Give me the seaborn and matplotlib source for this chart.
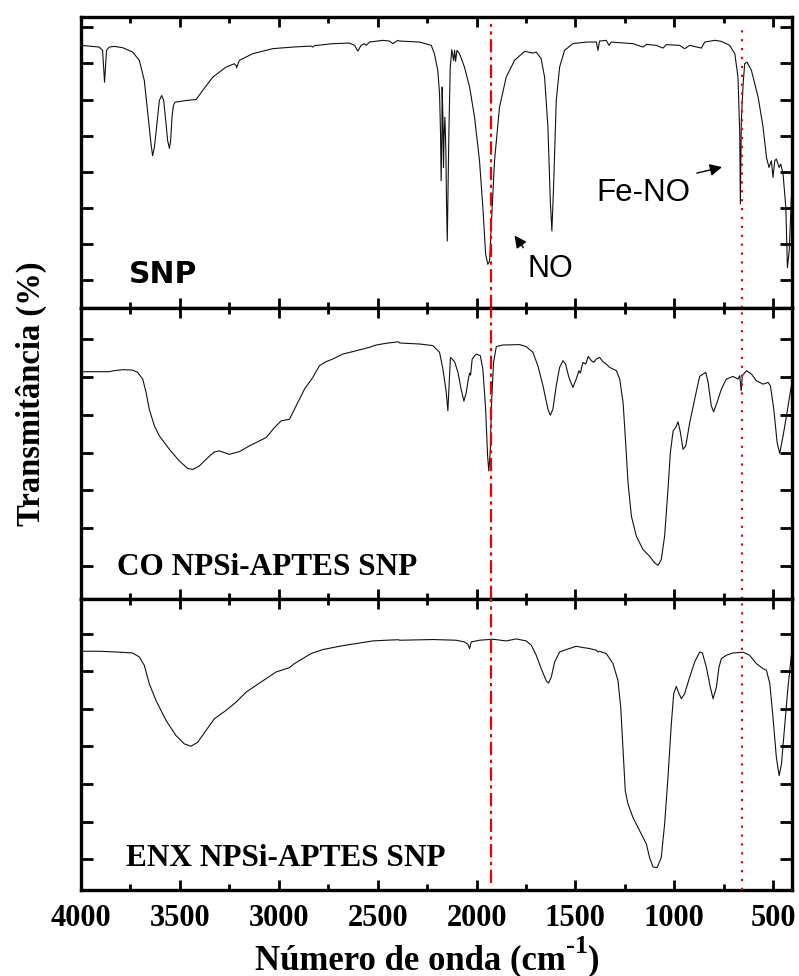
import numpy as np
import pandas as pd
import matplotlib
matplotlib.use("Agg")
import matplotlib.pyplot as plt
import seaborn as sns

# ---------------- data (wavenumber cm^-1, transmittance in arbitrary units) ----------------
snp_wn = [4000, 3908, 3891, 3881, 3871, 3857, 3832, 3790, 3739, 3705, 3680, 3660, 3646, 3638, 3629,
          3618, 3604, 3592, 3582, 3570, 3562, 3553, 3547, 3540, 3533, 3525, 3469, 3418, 3385, 3334,
          3267, 3225, 3216, 3213, 3206, 3199, 3132, 3031, 2929, 2837, 2828, 2820, 2727, 2643, 2617,
          2600, 2584, 2567, 2558, 2541, 2474, 2440, 2423, 2398,
          2390, 2288, 2229, 2213, 2196, 2187, 2182, 2179, 2175, 2174, 2170, 2167, 2164, 2160, 2155,
          2152, 2148, 2145, 2140, 2133, 2125, 2116, 2111, 2106, 2099, 2086, 2061, 2035, 2010, 1985,
          1968, 1954, 1943, 1934, 1926, 1909, 1884, 1850, 1808, 1757, 1715, 1698, 1673, 1656, 1639,
          1627, 1619, 1610, 1597, 1580, 1555, 1513, 1445, 1394, 1386, 1378, 1344, 1330, 1319, 1209,
          1158, 1141, 1091, 1057, 1040, 973, 948, 922, 863, 846, 796, 762, 720, 694, 678, 669, 666,
          661, 652, 644, 632, 610, 576, 551, 534, 521, 509, 501, 492, 484, 470, 462, 450, 436, 428,
          419, 408]
snp_t = [262, 260.3, 257, 225.3, 257, 260.3, 261, 259.7, 255.3, 247, 227, 190.3, 163.7, 152, 160.3,
         180.3, 207, 212, 207, 183.7, 167, 159.3, 167, 190.3, 202, 205.3, 207, 208, 217, 230.3,
         240.3, 243.7, 242, 239.7, 243.7, 247, 253.7, 258.7, 260.3, 261.3, 260.3, 261.7, 263.7, 264.3, 262,
         256.3, 262, 263.7, 262, 265.3, 267, 266.3, 263.7, 267,
         266.3, 265.3, 262, 253.7, 237, 213.7, 173.7, 127, 173.7, 220.3, 190.3, 140.3, 173.7, 190.3, 157,
         107, 67, 107, 173.7, 240.3, 257.7, 247, 257, 246, 257, 253.7, 240.3, 220.3, 190.3, 147,
         100.3, 53.7, 43.7, 47, 80.3, 147, 200.3, 230.3, 247, 256, 254.3, 255.3, 248.7, 230.3, 180.3,
         107, 77, 123.7, 207, 240.3, 257, 263.7, 265.3, 265.3, 257, 266.3, 267, 262, 265.3, 263.7,
         260.3, 263, 262, 259.3, 262.7, 262, 258.7, 262, 259.3, 265.3, 267, 266, 262, 253.7, 230.3, 173.7, 103.7,
         187, 223.7, 243.7, 245.3, 237, 210.3, 180.3, 150.3, 140.3, 147, 130.3, 147, 148.7, 140.3, 143.7, 133.7, 100.3, 40.3,
         57, 110.3]

co_wn = [4000, 3857, 3832, 3790, 3739, 3714, 3688, 3671, 3655, 3629, 3604, 3553, 3503, 3461, 3435,
         3402, 3359, 3326, 3300, 3250, 3199, 3149, 3115, 3064, 3022, 2988, 2946, 2912, 2870, 2828,
         2794, 2761, 2727, 2676, 2626, 2575, 2541, 2508, 2457, 2395,
         2388, 2288, 2221, 2187, 2170, 2153, 2145, 2137, 2132, 2111, 2094, 2078, 2064, 2052, 2040,
         2035, 2030, 2022, 2002, 1981, 1968, 1954, 1944, 1938, 1931, 1924, 1914, 1900, 1867, 1782,
         1749, 1715, 1690, 1664, 1639, 1627, 1614, 1597, 1580, 1563, 1550, 1533, 1513, 1496, 1482,
         1475, 1462, 1448, 1435, 1420, 1408, 1394, 1378, 1361, 1344, 1327, 1310, 1293, 1276, 1259,
         1246, 1234, 1217, 1192, 1158, 1125, 1099, 1082, 1066, 1049, 1032, 1020, 1006, 993, 981,
         969, 956, 942, 922, 897, 872, 841, 829, 813, 801, 784, 762, 737, 703, 678, 669, 662, 656,
         635, 610, 585, 551, 526, 514, 497, 480, 467, 450, 430, 408]
co_t = [226.7, 226.7, 227.7, 228.7, 228.3, 226, 219.3, 206, 189.3, 172.7, 162.7, 149.3, 137.7, 130.3, 129.3,
        132.7, 141, 146.7, 147.7, 144.3, 147, 152.7, 156, 161, 171, 177.7, 179.3, 192.7, 209.3, 221,
        232.7, 236.7, 239.3, 244.3, 246.7, 249.3, 251, 253.3, 255, 256.5,
        255.3, 254.3, 252.7, 246, 229.3, 206, 187.7, 219.3, 241, 236.7, 226, 209.3, 197.3, 206, 221,
        225.3, 223.3, 239.3, 244.3, 242.7, 229.3, 189.3, 142.7, 127.7, 146, 196, 236, 251.7, 253.3, 253.7,
        251.7, 246, 232.7, 212.7, 189.3, 183.3, 189.3, 212.7, 231, 237.7, 234.3, 221, 211, 219.3, 227.7,
        225.3, 236, 234.3, 242, 237.7, 236, 239.3, 241, 236.7, 234.3, 231, 229.3, 227.7, 219.3, 196,
        156, 116, 82.7, 62.7, 49.3, 42.7, 36, 33.7, 39.3, 62.7, 109.3, 146, 167.7, 171, 176.7,
        166, 149.3, 152.7, 176, 199.3, 222, 226, 216, 192.7, 186.7, 196, 209.3, 219.3, 222, 219.3, 222.7, 207.7, 222.7,
        227.7, 224.3, 217.7, 214.3, 216, 212.7, 189.3, 156, 145.3, 162.7, 186, 212.7]

enx_wn = [4000, 3908, 3823, 3739, 3705, 3680, 3655, 3621, 3570, 3520, 3478, 3444, 3410, 3368, 3326,
          3267, 3216, 3165, 3115, 3064, 3014, 2946, 2921, 2879, 2837, 2777, 2693, 2609, 2525, 2457, 2395,
          2388, 2221, 2103, 2061, 2044, 2035, 2027, 1985, 1917, 1850, 1799, 1749, 1723, 1698, 1673,
          1647, 1636, 1622, 1605, 1580, 1546, 1496, 1462, 1428, 1394, 1386, 1378, 1344, 1310, 1285,
          1271, 1259, 1248, 1234, 1209, 1175, 1141, 1125, 1108, 1087, 1066, 1049, 1032, 1015, 1003,
          990, 976, 964, 948, 922, 897, 872, 858, 838, 818, 804, 787, 774, 762, 737, 703, 652, 619,
          585, 551, 534, 517, 501, 484, 470, 458, 441, 425, 408]
enx_t = [238, 238, 237.3, 236.3, 232.3, 224, 205.7, 189, 169, 154, 145.7, 143.3, 147.3, 159, 170.7,
         179, 187.3, 197.3, 204, 210.7, 217.3, 221.7, 225.7, 230.7, 235.7, 239.7, 243, 245.7, 248.3, 249, 249.5,
         249, 249.7, 249, 247.3, 245, 240.7, 247.3, 249, 250, 248.3, 250.3, 248.3, 244, 234, 220.7,
         208.3, 206.3, 212.3, 227.3, 237.3, 239.7, 243, 241.7, 240.7, 239, 237.3, 238, 235.7, 225.7, 209,
         182.3, 139, 99, 85.7, 72.3, 59, 45.7, 32.3, 23, 22.3, 32.3, 65.7, 112.3, 165.7, 195.7,
         203, 195.7, 190.7, 195.7, 212.3, 227.3, 237.3, 236.3, 222.3, 202.3, 190.7, 202.3, 222.3, 230.7, 234, 236.3, 237, 234,
         225.7, 220.7, 219, 205.7, 172.3, 132.3, 114, 125.7, 165.7, 202.3, 234]

panel_labels = ["SNP", "CO NPSi-APTES SNP", "ENX NPSi-APTES SNP"]
x_ticks = [4000, 3500, 3000, 2500, 2000, 1500, 1000, 500]
marker_lines = [1926, 658]   # wavenumbers of the red reference lines

# ---------------- style ----------------
sns.set_theme(style="ticks")
plt.rcParams["font.family"] = ["Liberation Serif", "DejaVu Serif"]
plt.rcParams["text.color"] = "black"
plt.rcParams["axes.labelcolor"] = "black"
plt.rcParams["xtick.color"] = "black"
plt.rcParams["ytick.color"] = "black"
plt.rcParams["axes.edgecolor"] = "black"

fig = plt.figure(figsize=(7.99, 9.76), dpi=100)
gs = fig.add_gridspec(3, 1, left=0.1014, right=0.9912, top=0.9823, bottom=0.0881, hspace=0)
axes = [fig.add_subplot(gs[i]) for i in range(3)]

spectra = [(snp_wn, snp_t), (co_wn, co_t), (enx_wn, enx_t)]
yticks_list = [np.arange(28, 290, 36.0), np.arange(33.3, 289, 37.6), np.arange(30.7, 290, 37.5)]

for i, ax in enumerate(axes):
    wn, t = spectra[i]
    df = pd.DataFrame({"wn": wn, "T": t})
    sns.lineplot(data=df, x="wn", y="T", ax=ax, color="#111111", lw=0.8,
                 sort=False, estimator=None)
    ax.set_xlim(4000, 405)
    ax.set_ylim(0, 290)
    ax.set_xticks(x_ticks)
    ax.set_xticks(np.arange(3750, 400, -500), minor=True)
    ax.set_yticks(yticks_list[i])
    ax.set_yticklabels([])
    ax.set_xlabel("")
    ax.set_ylabel("")
    for s in ax.spines.values():
        s.set_linewidth(2.4)
        s.set_color("black")
        s.set_visible(True)
    ax.tick_params(axis="x", which="major", direction="in", length=7.5, width=2,
                   top=True, bottom=True, color="black")
    ax.tick_params(axis="x", which="minor", direction="in", length=4, width=2,
                   top=True, bottom=True, color="black")
    ax.tick_params(axis="y", which="major", direction="in", length=8.5, width=2,
                   left=True, right=True, color="black")
    if i < 2:
        ax.set_xticklabels([])
    else:
        ax.set_xticklabels([str(v) for v in x_ticks], fontsize=22, fontweight="bold",
                           family="Liberation Serif", color="black")
        ax.tick_params(axis="x", which="major", pad=10)

# red reference lines spanning the three panels
ymins = [[0, 0, 0.024], [0, 0, 0]]
ymaxs = [[0.978, 1, 1], [0.955, 1, 1]]
styles = [(0, (6, 2, 1.5, 2)), (0, (1, 3))]
for j, wl in enumerate(marker_lines):
    for i, ax in enumerate(axes):
        ax.axvline(wl, ymin=ymins[j][i], ymax=ymaxs[j][i], color="#ee0000",
                   lw=1.6, linestyle=styles[j], zorder=3)

# panel labels
axes[0].text(3760, 25, panel_labels[0], fontsize=21.5, fontweight="bold",
             family="DejaVu Sans", va="baseline", ha="left", color="black")
axes[1].text(3820, 24, panel_labels[1], fontsize=22.5, fontweight="bold",
             family="Liberation Serif", va="baseline", ha="left", color="black")
axes[2].text(3772, 24, panel_labels[2], fontsize=22.5, fontweight="bold",
             family="Liberation Serif", va="baseline", ha="left", color="black")

# annotations
axes[0].text(1743, 31, "NO", fontsize=22, family="Liberation Sans", va="baseline", ha="left")
axes[0].annotate("", xy=(1816, 74.7), xytext=(1755, 58),
                 arrowprops=dict(arrowstyle="-|>", color="black", lw=1, mutation_scale=18))
axes[0].text(1394, 107, "Fe-NO", fontsize=22.5, family="Liberation Sans", va="baseline", ha="left")
axes[0].annotate("", xy=(745, 141.3), xytext=(900, 134),
                 arrowprops=dict(arrowstyle="-|>", color="black", lw=1, mutation_scale=18))

# axis labels
fig.text(0.039, 0.597, "Transmitância (%)", rotation=90, fontsize=23.5, fontweight="bold",
         family="Liberation Serif", ha="center", va="center")

# x label built from pieces so the superscript is large, like the reference
W, H = fig.get_size_inches() * fig.dpi
base_y = 1 - 969 / H
renderer = fig.canvas.get_renderer()
pieces = [("Número de onda (cm", 25, 0.0), ("-1", 19, 16.0), (")", 25, 0.0)]
txts = []
for s, fs, dy in pieces:
    t = fig.text(0, base_y + dy / H, s, fontsize=fs, fontweight="bold",
                 family="Liberation Serif", ha="left", va="baseline")
    txts.append(t)
widths = [t.get_window_extent(renderer).width for t in txts]
total = sum(widths)
x0 = 427 - total / 2
for t, w in zip(txts, widths):
    t.set_x(x0 / W)
    x0 += w

fig.savefig("out.png", dpi=100)
